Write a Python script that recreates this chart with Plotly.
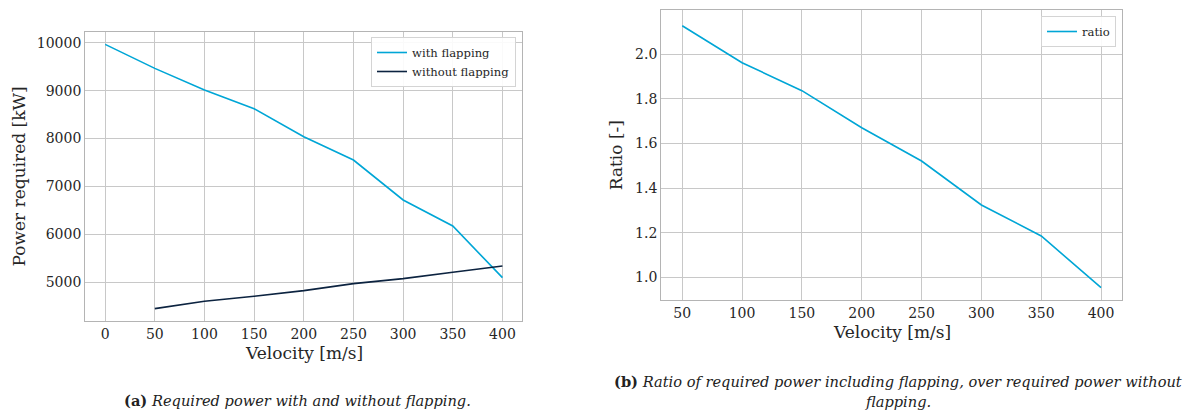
import plotly.graph_objects as go

# ---- data ----
velocity_a = [0, 50, 100, 150, 200, 250, 300, 350, 400]
power_with = [9965, 9465, 9013, 8623, 8039, 7552, 6718, 6175, 5097]
velocity_b = [50, 100, 150, 200, 250, 300, 350, 400]
power_without = [4450, 4604, 4708, 4826, 4972, 5077, 5209, 5341]
ratio = [2.127, 1.961, 1.836, 1.670, 1.521, 1.324, 1.185, 0.954]

x_ticks_a = [0, 50, 100, 150, 200, 250, 300, 350, 400]
y_ticks_a = [5000, 6000, 7000, 8000, 9000, 10000]
x_ticks_b = [50, 100, 150, 200, 250, 300, 350, 400]
y_ticks_b = [1.0, 1.2, 1.4, 1.6, 1.8, 2.0]

W, H = 1195, 410
CYAN = "#00A6D6"
NAVY = "#0C2340"
GRID = "#c8c8c8"
SPINE = "#b4b4b4"
TXT = "#262626"
SERIF = "DejaVu Serif"


def px(x):
    return x / W


def py(y):
    return 1 - y / H


fig = go.Figure()
fig.add_trace(go.Scatter(x=velocity_a, y=power_with, mode="lines", name="with flapping",
                         line=dict(color=CYAN, width=1.6), xaxis="x", yaxis="y", legend="legend"))
fig.add_trace(go.Scatter(x=velocity_b, y=power_without, mode="lines", name="without flapping",
                         line=dict(color=NAVY, width=1.6), xaxis="x", yaxis="y", legend="legend"))
fig.add_trace(go.Scatter(x=velocity_b, y=ratio, mode="lines", name="ratio",
                         line=dict(color=CYAN, width=1.6), xaxis="x2", yaxis="y2", legend="legend2"))

axis_common = dict(showgrid=True, gridcolor=GRID, gridwidth=1, showline=True, linecolor=SPINE,
                   linewidth=1.3, mirror=True, ticks="", zeroline=False,
                   tickfont=dict(family=SERIF, size=14, color=TXT))

fig.update_layout(
    width=W, height=H,
    margin=dict(l=0, r=0, t=0, b=0),
    paper_bgcolor="white", plot_bgcolor="white",
    font=dict(family=SERIF, color=TXT),
    xaxis=dict(domain=[px(85.3), px(522.3)], anchor="y", range=[-20, 420],
               tickvals=x_ticks_a, tickformat="d", **axis_common),
    yaxis=dict(domain=[py(321.3), py(31.7)], anchor="x", range=[4186, 10230],
               tickvals=y_ticks_a, tickformat="d", **axis_common),
    xaxis2=dict(domain=[px(661.3), px(1122)], anchor="y2", range=[32.5, 417.5],
                tickvals=x_ticks_b, tickformat="d", **axis_common),
    yaxis2=dict(domain=[py(300.3), py(10.3)], anchor="x2", range=[0.897, 2.196],
                tickvals=y_ticks_b, tickformat=".1f", **axis_common),
    legend=dict(x=px(516), y=py(37), xanchor="right", yanchor="top",
                bgcolor="rgba(255,255,255,0.9)", bordercolor="#d4d4d4", borderwidth=1,
                font=dict(family=SERIF, size=11.6, color=TXT), tracegroupgap=0),
    legend2=dict(x=px(1116), y=py(16), xanchor="right", yanchor="top",
                 bgcolor="rgba(255,255,255,0.9)", bordercolor="#d4d4d4", borderwidth=1,
                 font=dict(family=SERIF, size=11.6, color=TXT)),
    showlegend=True,
)

annos = [
    dict(text="Power required [kW]", x=px(19), y=py(176.5), textangle=-90, size=17),
    dict(text="Velocity [m/s]", x=px(303.8), y=py(353.3), textangle=0, size=17),
    dict(text="Ratio [-]", x=px(616), y=py(155.3), textangle=-90, size=17),
    dict(text="Velocity [m/s]", x=px(891.7), y=py(332.3), textangle=0, size=17),
]
for a in annos:
    fig.add_annotation(text=a["text"], x=a["x"], y=a["y"], xref="paper", yref="paper",
                       xanchor="center", yanchor="middle", textangle=a["textangle"],
                       showarrow=False, font=dict(family=SERIF, size=a["size"], color=TXT))

captions = [
    ("<b>(a)</b> <i>Required power with and without flapping.</i>", 297.5, 400),
    ("<b>(b)</b> <i>Ratio of required power including flapping, over required power without</i>", 897.5, 381),
    ("<i>flapping.</i>", 897.5, 401),
]
for t, x, y in captions:
    fig.add_annotation(text=t, x=px(x), y=py(y), xref="paper", yref="paper",
                       xanchor="center", yanchor="middle", showarrow=False,
                       font=dict(family=SERIF, size=14.6, color="#222222"))

fig.write_html("out.html", config={"displayModeBar": False},
               post_script="document.body.style.margin='0px';document.body.style.overflow='hidden';")
